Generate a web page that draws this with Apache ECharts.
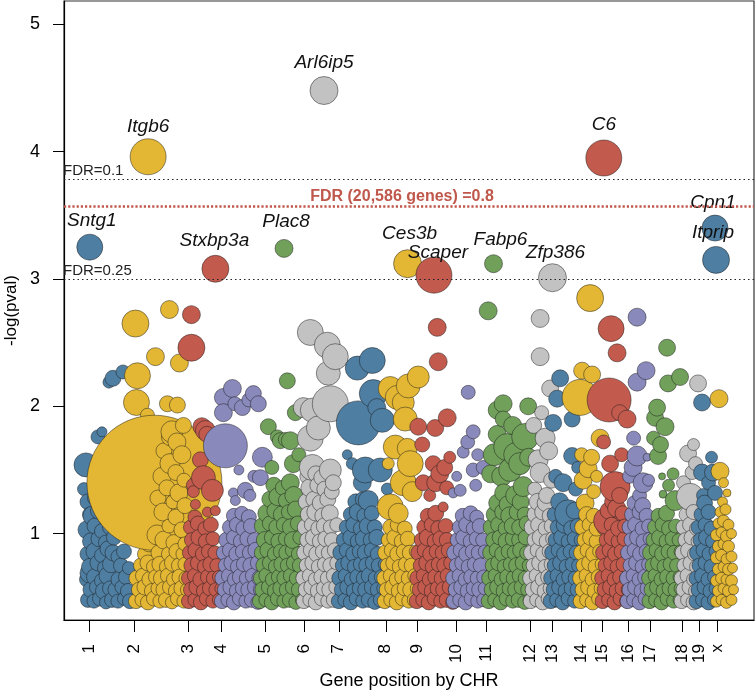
<!DOCTYPE html>
<html><head><meta charset="utf-8">
<script src="https://cdn.jsdelivr.net/npm/echarts@6/dist/echarts.min.js"></script>
<style>html,body{margin:0;padding:0;background:#fff}#c{width:756px;height:694px}</style>
</head><body><div id="c"></div>
<script>
// ---- axis definitions ----
const chrNames = ['1','2','3','4','5','6','7','8','9','10','11','12','13','14','15','16','17','18','19','x'];
const chrStart = [25,70,124,157,201,240,275,322,354,393,423,467,489,518,539,565,587,619,636,654];
const yTicks = [1,2,3,4,5];

// ---- thresholds ----
const fdrDotted = [{label:'FDR=0.1', value:3.78},{label:'FDR=0.25', value:3.0}];
const fdrGenome = {label:'FDR (20,586 genes) =0.8', value:3.57};

// ---- labelled genes ----
const geneNames = ['Sntg1','Itgb6','Stxbp3a','Plac8','Arl6ip5','Ces3b','Scaper','Fabp6','Zfp386','C6','Cpn1','Itprip'];
const geneChr   = [0,1,2,4,5,7,8,10,11,14,18,18];
const genePos   = [25.8,84.2,151.5,220.2,260.2,343.8,370.2,429.8,488.8,540.2,651.5,652.5];
const geneLogP  = [3.25,3.96,3.08,3.24,4.48,3.12,3.03,3.12,3.01,3.95,3.40,3.15];
const geneSize  = [26,36,27,18,28,28,36,18,28,36,26,27];

// ---- genes per chromosome: [position, -log(pval), bubble size] ----
const chr1 = [[22,1.54,24],[34,1.76,14],[38,1.80,10],[49,2.22,16],[59,2.27,14],[45,2.19,12],[29,1.14,20],[26,0.69,20],[49,0.85,16],
[24,0.48,15],[30,0.47,14],[36,0.49,15],[42,0.46,13],[48,0.48,15],[54,0.47,14],[60,0.49,13],[66,0.47,15],
[27,0.56,16],[33,0.58,15],[40,0.55,17],[46,0.57,15],[52,0.56,16],[58,0.58,14],[64,0.55,15],
[23,0.64,15],[31,0.66,17],[38,0.63,15],[44,0.67,18],[55,0.64,16],[62,0.66,15],
[26,0.74,17],[34,0.77,16],[41,0.73,15],[47,0.76,17],[57,0.75,15],[65,0.73,13],
[24,0.84,16],[31,0.86,18],[38,0.83,15],[44,0.88,16],[54,0.82,14],[60,0.86,15],
[27,0.94,17],[35,0.96,16],[42,0.93,15],[50,0.97,15],[23,1.03,18],[31,1.06,16],[38,1.02,15],[46,1.05,15],
[26,1.15,15],[35,1.18,17],[42,1.12,15],[24,1.25,16],[31,1.28,15],[20,1.35,13]];
const chr2 = [[90.5,1.40,135],[71.5,2.65,27],[105.5,2.76,18],[91.5,2.39,18],[115.5,2.34,18],[73.5,2.24,26],[72.5,2.03,26],[103.5,2.02,16],[113.5,2.01,16],[83.5,1.93,14],[119.5,1.85,16],[106.5,1.76,18],
[108,1.80,22],[113,1.72,18],[100,1.65,16],[118,1.62,18],[106,1.55,20],[112,1.48,16],[98,1.45,18],[120,1.42,14],[103,1.36,16],[115,1.32,18],[94,1.28,16],[109,1.25,14],[121,1.22,16],[99,1.17,18],[112,1.13,16],[89,1.10,16],[105,1.06,14],[118,1.03,16],[93,0.99,20],[100,0.95,18],[110,0.93,16],[121,0.92,14],[85,0.92,16],
[72,0.47,15],[78,0.48,14],[84,0.46,15],[90,0.49,15],[96,0.47,14],[102,0.48,15],[108,0.46,13],[114,0.49,15],[120,0.47,14],
[75,0.56,15],[81,0.58,16],[88,0.55,15],[94,0.57,14],[100,0.56,16],[106,0.58,15],[112,0.55,15],[118,0.57,16],[123,0.56,13],
[73,0.65,16],[79,0.67,15],[86,0.64,16],[92,0.66,15],[98,0.65,17],[104,0.67,15],[110,0.64,15],[116,0.66,16],[122,0.65,14],
[77,0.75,15],[84,0.77,16],[90,0.74,15],[96,0.76,16],[103,0.74,15],[109,0.77,17],[115,0.75,15],[121,0.76,14],
[81,0.84,15],[95,0.85,16],[105,0.84,15],[113,0.86,16],[119,0.84,14]];
const chr3 = [[127.5,2.72,18],[127.5,2.46,27],[141.5,1.81,20],[139.5,1.44,24],[148.5,1.34,22],[129.5,1.38,14],[129.5,1.33,12],[131.5,1.23,10],[143.5,1.17,10],[151.5,1.18,10],[136.5,1.58,16],[138,1.84,18],[143,1.78,16],
[125,0.47,15],[131,0.48,14],[137,0.46,15],[143,0.49,15],[149,0.47,14],[155,0.48,13],
[127,0.56,15],[133,0.58,16],[140,0.55,15],[146,0.57,15],[152,0.56,14],[157,0.57,12],
[125,0.65,15],[131,0.67,15],[137,0.64,16],[144,0.66,15],[150,0.65,15],[155,0.66,13],
[128,0.75,16],[134,0.77,15],[141,0.74,15],[147,0.76,16],[153,0.75,14],
[126,0.85,15],[132,0.87,16],[139,0.84,15],[145,0.86,15],[151,0.85,14],
[128,0.95,15],[135,0.97,16],[142,0.94,15],[149,0.96,14],
[127,1.05,15],[134,1.08,15],[141,1.04,14],[147,1.07,15],[131,1.13,14]];
const chr4 = [[161.5,1.69,44],[168.5,2.14,18],[159.5,2.07,18],[159.5,1.95,18],[178.5,1.99,16],[189.5,2.10,16],[194.5,2.02,16],[185,2.05,14],[171,2.02,14],
[198.5,1.60,20],[196.5,1.44,16],[181.5,1.34,16],[169.5,1.32,10],[171.5,1.26,10],[186,1.30,12],[175,1.50,10],[190,1.45,12],
[158,0.47,15],[164,0.48,14],[170,0.46,15],[176,0.49,15],[182,0.47,14],[188,0.48,15],[194,0.46,14],[200,0.48,13],
[161,0.56,15],[167,0.58,16],[173,0.55,15],[179,0.57,15],[185,0.56,16],[191,0.58,15],[197,0.56,15],
[159,0.65,16],[165,0.67,15],[171,0.64,15],[177,0.66,17],[183,0.65,15],[189,0.67,15],[196,0.65,16],
[162,0.75,15],[168,0.77,16],[174,0.74,15],[180,0.76,15],[187,0.75,16],[194,0.77,15],
[160,0.85,15],[166,0.87,15],[173,0.84,16],[179,0.86,15],[186,0.85,15],[192,0.87,16],[199,0.84,14],
[163,0.95,16],[170,0.97,15],[177,0.94,15],[184,0.96,16],[191,0.95,15],
[166,1.05,15],[173,1.07,15],[180,1.04,16],[187,1.06,15],[170,1.14,15],[178,1.16,14],[185,1.13,15]];
const chr5 = [[223.5,2.20,16],[204.5,1.84,16],[213.5,1.76,14],[221.5,1.74,14],[231.5,1.95,16],[226.5,1.73,18],[216.5,1.73,16],[229.5,1.55,18],[226.5,1.40,18],[208,1.52,14],[235,1.62,14],
[196,0.47,15],[202,0.48,14],[208,0.46,15],[214,0.49,15],[220,0.47,14],[226,0.48,15],[232,0.46,14],[238,0.48,13],
[199,0.56,16],[205,0.58,15],[211,0.55,15],[217,0.57,16],[223,0.56,15],[229,0.58,15],[235,0.56,15],
[197,0.65,15],[203,0.67,16],[209,0.64,15],[215,0.66,15],[221,0.65,16],[227,0.67,15],[233,0.65,15],[239,0.66,13],
[200,0.75,16],[206,0.77,15],[212,0.74,15],[218,0.76,16],[224,0.75,15],[230,0.77,15],[236,0.75,15],
[198,0.85,15],[204,0.87,16],[211,0.84,15],[217,0.86,15],[223,0.85,16],[229,0.87,15],[235,0.84,15],
[201,0.95,17],[208,0.97,15],[215,0.94,16],[222,0.96,15],[229,0.95,17],[236,0.97,14],
[199,1.06,17],[206,1.08,15],[213,1.05,16],[220,1.07,15],[227,1.05,17],[234,1.08,15],
[203,1.16,18],[211,1.18,16],[218,1.15,17],[225,1.17,15],[232,1.19,17],
[206,1.27,16],[214,1.29,18],[222,1.26,15],[230,1.30,18],[210,1.38,16],[219,1.36,15]];
const chr6 = [[246.5,2.58,26],[263.5,2.48,26],[271.5,2.39,26],[264.5,2.26,24],[266.5,2.02,36],[239.5,1.99,20],[248.5,1.97,24],[246.5,1.75,26],[254.5,1.83,24],[248.5,1.52,26],[266.5,1.50,22],[269.5,1.40,16],
[240,0.47,15],[246,0.48,14],[252,0.46,15],[258,0.49,15],[264,0.47,14],[270,0.48,15],[275,0.47,13],
[242,0.56,15],[248,0.58,16],[254,0.55,15],[260,0.57,15],[266,0.56,16],[272,0.58,14],
[240,0.65,16],[246,0.67,15],[252,0.64,15],[258,0.66,16],[264,0.65,15],[270,0.67,15],[275,0.65,13],
[243,0.75,15],[249,0.77,16],[255,0.74,15],[261,0.76,15],[267,0.75,16],[273,0.77,14],
[241,0.85,16],[247,0.87,15],[253,0.84,16],[259,0.86,15],[265,0.85,15],[271,0.87,15],
[244,0.95,16],[250,0.97,17],[256,0.94,15],[262,0.96,16],[268,0.95,15],
[242,1.05,17],[248,1.07,15],[255,1.04,16],[261,1.06,17],[267,1.05,15],[273,1.07,14],
[245,1.15,17],[252,1.17,18],[259,1.14,16],[266,1.16,17],
[243,1.25,17],[250,1.27,16],[257,1.24,17],[264,1.27,16],
[246,1.36,18],[254,1.38,16],[261,1.35,16],[268,1.33,15],[244,1.45,16],[252,1.47,16],[258,1.44,16]];
const chr7 = [[308.5,2.36,26],[293.5,2.30,24],[309.5,2.10,28],[294.5,1.87,44],[318.5,1.89,24],[313,1.99,18],[288.5,1.55,12],[301.5,1.50,26],[316.5,1.50,24],[323.5,1.35,12],[298.5,1.40,18],[304.5,1.26,20],[283.5,1.62,10],
[275,0.47,15],[281,0.48,14],[287,0.46,15],[293,0.49,15],[299,0.47,14],[305,0.48,15],[311,0.46,14],[317,0.48,15],[322,0.47,13],
[278,0.56,15],[284,0.58,16],[290,0.55,15],[296,0.57,15],[302,0.56,16],[308,0.58,15],[314,0.56,15],[320,0.57,14],
[276,0.65,16],[282,0.67,15],[288,0.64,15],[294,0.66,16],[300,0.65,15],[306,0.67,17],[312,0.65,15],[318,0.66,15],
[279,0.75,15],[285,0.77,16],[291,0.74,15],[297,0.76,15],[303,0.75,16],[309,0.77,15],[315,0.75,15],[321,0.76,13],
[277,0.85,16],[283,0.87,15],[290,0.84,16],[296,0.86,15],[302,0.85,17],[308,0.87,15],[314,0.84,15],
[280,0.95,15],[287,0.97,16],[294,0.94,15],[300,0.96,17],[307,0.95,15],[313,0.97,16],
[283,1.05,15],[290,1.07,16],[297,1.04,15],[304,1.06,17],[311,1.05,15],
[287,1.15,15],[294,1.17,17],[301,1.14,16],[308,1.16,15],[292,1.25,16],[299,1.27,15]];
const chr8 = [[326.5,2.14,24],[333.5,2.07,24],[344.5,2.16,24],[354.5,2.23,22],[339.5,2.03,22],[341.5,1.90,24],[331.5,1.68,24],[343.5,1.67,20],[346.5,1.55,26],[324.5,1.55,12],[339.5,1.40,26],[348.5,1.33,20],[326.5,1.21,26],[334.5,1.16,20],
[321,0.47,15],[327,0.48,14],[333,0.46,15],[339,0.49,15],[345,0.47,14],[351,0.48,15],
[323,0.56,15],[329,0.58,16],[335,0.55,15],[341,0.57,15],[347,0.56,16],[353,0.57,13],
[321,0.65,16],[327,0.67,15],[333,0.64,15],[339,0.66,16],[345,0.65,15],[351,0.67,14],
[324,0.75,15],[330,0.77,16],[336,0.74,15],[342,0.76,15],[348,0.75,15],
[322,0.85,16],[328,0.87,15],[334,0.84,16],[340,0.86,15],[346,0.85,15],[352,0.86,13],
[325,0.95,15],[331,0.97,16],[338,0.94,15],[344,0.96,15],[327,1.05,16],[334,1.07,15],[341,1.04,15]];
const chr9 = [[373.5,2.62,18],[374.5,2.35,18],[354.5,1.84,17],[371.5,1.83,17],[383.5,1.91,18],[358.5,1.70,15],[369.5,1.55,16],[376,1.47,18],[381,1.52,16],[372,1.40,18],[359.5,1.40,16],[383,1.36,14],[379.5,1.21,10],[366,1.30,12],[386,1.60,12],
[353,0.47,15],[359,0.48,14],[365,0.46,15],[371,0.49,15],[377,0.47,14],[383,0.48,15],[389,0.46,14],
[356,0.56,15],[362,0.58,16],[368,0.55,15],[374,0.57,15],[380,0.56,16],[386,0.58,15],[391,0.56,13],
[354,0.65,16],[360,0.67,15],[366,0.64,15],[372,0.66,16],[378,0.65,15],[384,0.67,15],[390,0.65,14],
[357,0.75,15],[363,0.77,16],[369,0.74,15],[375,0.76,15],[381,0.75,16],[387,0.77,14],
[355,0.85,16],[361,0.87,15],[367,0.84,16],[373,0.86,15],[379,0.85,15],[385,0.87,15],
[358,0.95,15],[364,0.97,17],[371,0.94,15],[377,0.96,16],[383,0.95,15],
[361,1.05,16],[368,1.07,15],[375,1.04,16],[382,1.06,15],[364,1.14,15],[372,1.16,16]];
const chr10 = [[404.5,2.11,14],[409.5,1.80,14],[399.5,1.64,12],[409.5,1.50,14],[396.5,1.34,12],[389.5,1.32,10],[419.5,1.52,14],[404,1.72,14],[414,1.62,12],[393,1.45,10],[412,1.38,12],
[390,0.47,15],[396,0.48,14],[402,0.46,15],[408,0.49,15],[414,0.47,14],[420,0.48,14],
[392,0.56,15],[398,0.58,16],[404,0.55,15],[410,0.57,15],[416,0.56,16],[421,0.57,13],
[390,0.65,16],[396,0.67,15],[402,0.64,15],[408,0.66,16],[414,0.65,15],[420,0.66,14],
[393,0.75,15],[399,0.77,16],[405,0.74,15],[411,0.76,15],[417,0.75,15],
[391,0.85,16],[397,0.87,15],[403,0.84,16],[409,0.86,15],[415,0.85,15],[421,0.86,13],
[394,0.95,15],[400,0.97,16],[407,0.94,15],[413,0.96,15],[419,0.95,14],
[396,1.05,15],[403,1.07,16],[410,1.04,15],[416,1.06,15],[399,1.14,15],[407,1.16,15],[413,1.13,14]];
const chr11 = [[424.5,2.75,18],[433.5,1.97,18],[439.5,2.02,18],[464.5,2.00,17],[439.5,1.90,16],
[443.5,1.68,27],[461.5,1.76,27],[446.5,1.50,23],[459.5,1.37,20],[430.5,1.62,22],[433.5,1.78,18],[452,1.62,24],[438,1.45,20],[449,1.85,18],[456,1.55,22],[465,1.60,18],[427,1.47,18],[440,1.32,18],[452,1.30,20],
[425,0.47,15],[431,0.48,14],[437,0.46,15],[443,0.49,15],[449,0.47,14],[455,0.48,15],[461,0.46,14],[466,0.48,13],
[428,0.56,15],[434,0.58,16],[440,0.55,15],[446,0.57,15],[452,0.56,16],[458,0.58,15],[464,0.56,14],
[426,0.65,16],[432,0.67,15],[438,0.64,15],[444,0.66,16],[450,0.65,15],[456,0.67,15],[462,0.65,15],
[429,0.75,15],[435,0.77,16],[441,0.74,15],[447,0.76,15],[453,0.75,16],[459,0.77,15],[465,0.75,13],
[427,0.85,16],[433,0.87,15],[439,0.84,16],[445,0.86,15],[451,0.85,15],[457,0.87,16],[463,0.85,14],
[430,0.95,16],[436,0.97,15],[443,0.94,17],[449,0.96,15],[456,0.95,16],[462,0.97,15],
[428,1.05,17],[435,1.07,16],[442,1.04,15],[449,1.06,17],[456,1.05,16],[463,1.08,15],
[431,1.15,17],[439,1.17,16],[446,1.14,18],[454,1.17,17],[461,1.15,15],[434,1.24,18],[444,1.23,17],[457,1.25,17]];
const chr12 = [[476.5,2.69,18],[476.5,2.39,18],[486.5,2.14,17],[481.5,1.75,20],[474.5,1.58,20],[476.5,1.48,20],[485,1.65,18],[470,1.85,16],[478,1.95,14],[488,1.42,16],[471,1.35,14],[483,1.30,16],
[467,0.47,15],[473,0.48,14],[479,0.46,15],[485,0.49,15],[490,0.47,13],
[469,0.56,15],[475,0.58,16],[481,0.55,15],[487,0.57,15],
[467,0.65,16],[473,0.67,15],[479,0.64,15],[485,0.66,16],[490,0.65,13],
[470,0.75,15],[476,0.77,16],[482,0.74,15],[488,0.76,15],
[468,0.85,16],[474,0.87,15],[480,0.84,16],[486,0.86,15],
[471,0.95,15],[477,0.97,17],[483,0.94,15],[489,0.96,14],
[469,1.05,17],[475,1.07,16],[482,1.04,15],[488,1.06,15],
[472,1.15,17],[479,1.17,16],[486,1.14,15],[474,1.25,17],[482,1.24,17]];
const chr13 = [[496.5,2.22,17],[493.5,2.06,17],[489.5,1.87,17],[508.5,1.90,16],[508.5,1.61,17],[499.5,1.40,18],[504.5,1.16,27],[492,1.45,14],[512,1.35,14],[496,1.25,18],[514,1.52,12],
[487,0.47,15],[493,0.48,14],[499,0.46,15],[505,0.49,15],[511,0.47,14],[517,0.48,13],
[490,0.56,15],[496,0.58,16],[502,0.55,15],[508,0.57,15],[514,0.56,15],
[488,0.65,16],[494,0.67,15],[500,0.64,15],[506,0.66,16],[512,0.65,15],[517,0.66,13],
[491,0.75,15],[497,0.77,16],[503,0.74,15],[509,0.76,15],[515,0.75,14],
[489,0.85,16],[495,0.87,15],[501,0.84,16],[507,0.86,15],[513,0.85,15],
[492,0.95,15],[498,0.97,16],[505,0.94,15],[511,0.96,15],[517,0.95,13],
[494,1.05,15],[501,1.07,17],[508,1.04,16],[514,1.06,15],[491,1.15,15],[511,1.18,17]];
const chr14 = [[526.5,2.85,27],[516.5,2.07,36],[518.5,2.28,17],[528.5,2.25,17],[536.5,1.75,18],[524.5,1.51,18],[519.5,1.42,18],[521.5,1.24,18],[530,1.33,14],[518,1.62,14],[533,1.45,12],[528,1.60,16],
[517,0.47,15],[523,0.48,14],[529,0.46,15],[535,0.49,14],
[519,0.56,15],[525,0.58,16],[531,0.55,15],[537,0.57,13],
[517,0.65,16],[523,0.67,15],[529,0.64,15],[535,0.66,15],
[520,0.75,15],[526,0.77,16],[532,0.74,15],[538,0.76,13],
[518,0.85,16],[524,0.87,15],[530,0.84,16],[536,0.86,14],
[521,0.95,15],[527,0.97,16],[533,0.94,15],[519,1.05,16],[526,1.07,15],[533,1.04,15],[523,1.15,16],[530,1.14,15]];
const chr15 = [[547.5,2.61,26],[553.5,2.42,18],[545.5,2.05,44],[563.5,1.90,18],[546.5,1.55,17],[551.5,1.37,30],[543.5,1.10,27],[540,1.72,14],[556,1.95,16],[558,1.62,14],[549,1.25,16],
[539,0.47,15],[545,0.48,14],[551,0.46,15],[557,0.49,15],[563,0.47,14],
[541,0.56,15],[547,0.58,16],[553,0.55,15],[559,0.57,15],[564,0.56,13],
[539,0.65,16],[545,0.67,15],[551,0.64,15],[557,0.66,16],[563,0.65,14],
[542,0.75,15],[548,0.77,16],[554,0.74,15],[560,0.76,15],
[540,0.85,16],[546,0.87,15],[552,0.84,16],[558,0.86,15],[564,0.85,13],
[543,0.95,15],[549,0.97,17],[555,0.94,15],[561,0.96,15],
[541,1.05,16],[548,1.07,15],[555,1.04,16],[561,1.06,14],[545,1.18,17],[553,1.20,18],[559,1.16,15],[556,1.30,16]];
const chr16 = [[573.5,2.70,18],[582.5,2.28,18],[573.5,2.19,18],[573.5,1.61,20],[583.5,1.60,8],[569.5,1.52,18],[579.5,1.40,20],[566,1.45,14],[576,1.30,14],[585,1.42,12],[570,1.75,14],
[564,0.47,15],[570,0.48,14],[576,0.46,15],[582,0.49,15],[587,0.47,13],
[566,0.56,15],[572,0.58,16],[578,0.55,15],[584,0.57,15],
[564,0.65,16],[570,0.67,15],[576,0.64,15],[582,0.66,16],[587,0.65,13],
[567,0.75,15],[573,0.77,16],[579,0.74,15],[585,0.76,14],
[565,0.85,16],[571,0.87,15],[577,0.84,16],[583,0.86,15],
[568,0.95,15],[574,0.97,16],[580,0.94,15],[586,0.96,13],
[566,1.05,15],[572,1.07,16],[579,1.04,15],[585,1.06,14],[569,1.15,16],[576,1.17,15],[583,1.14,15],[571,1.24,15],[579,1.22,16]];
const chr17 = [[603.5,2.46,17],[604.5,2.18,17],[616.5,2.23,17],[593.5,1.99,17],[591.5,1.91,17],[601.5,1.84,18],[594.5,1.61,17],[598.5,1.45,7],[599.5,1.31,8],[609.5,1.47,12],[611.5,1.26,20],[590,1.75,14],[597,1.70,16],[605,1.38,12],
[586,0.47,15],[592,0.48,14],[598,0.46,15],[604,0.49,15],[610,0.47,14],[616,0.48,13],
[588,0.56,15],[594,0.58,16],[600,0.55,15],[606,0.57,15],[612,0.56,15],[617,0.57,13],
[586,0.65,16],[592,0.67,15],[598,0.64,15],[604,0.66,16],[610,0.65,15],[616,0.66,13],
[589,0.75,15],[595,0.77,16],[601,0.74,15],[607,0.76,15],[613,0.75,14],
[587,0.85,16],[593,0.87,15],[599,0.84,16],[605,0.86,15],[611,0.85,15],[617,0.86,13],
[590,0.95,15],[596,0.97,16],[603,0.94,15],[609,0.96,15],[615,0.95,13],
[592,1.05,16],[599,1.07,15],[606,1.04,16],[612,1.06,14],[595,1.14,15],[603,1.16,16]];
const chr18 = [[634.5,2.18,17],[624.5,1.63,17],[628.5,1.48,14],[626.5,1.29,27],[620,1.40,14],[632,1.55,14],[630,1.70,12],
[618,0.47,15],[624,0.48,14],[630,0.46,15],[635,0.48,13],
[620,0.56,15],[626,0.58,15],[632,0.55,14],
[618,0.65,15],[624,0.67,15],[630,0.64,14],[635,0.66,13],
[621,0.75,15],[627,0.77,15],[633,0.74,14],
[619,0.85,15],[625,0.87,16],[631,0.84,14],
[622,0.95,15],[628,0.97,15],[634,0.94,13],
[620,1.05,15],[627,1.07,16],[633,1.04,14],[623,1.15,15],[630,1.17,15]];
const chr19 = [[638.5,2.03,17],[638.5,1.48,17],[649.5,1.48,17],[651.5,1.32,15],[645,1.40,14],[640,1.30,14],[648,1.60,12],
[633,0.47,15],[639,0.48,14],[645,0.46,15],[651,0.48,14],
[635,0.56,15],[641,0.58,15],[647,0.55,15],[652,0.57,13],
[633,0.65,15],[639,0.67,16],[645,0.64,15],[651,0.66,14],
[636,0.75,15],[642,0.77,15],[648,0.74,15],
[634,0.85,16],[640,0.87,15],[646,0.84,15],[652,0.86,13],
[637,0.95,15],[643,0.97,16],[649,0.94,14],
[635,1.05,15],[642,1.07,15],[648,1.04,15],[638,1.15,15],[645,1.17,15],[641,1.24,16]];
const chrX = [[655.5,2.06,18],[656.5,1.49,18],[663.5,1.32,8],[660,1.40,10],
[653,0.47,12],[658,0.48,11],[663,0.46,12],[668,0.48,11],
[655,0.55,12],[660,0.57,11],[665,0.55,12],[670,0.56,10],
[653,0.63,12],[658,0.65,12],[663,0.64,11],[668,0.63,12],
[655,0.72,12],[660,0.74,11],[665,0.72,12],[669,0.73,10],
[653,0.81,12],[658,0.83,12],[663,0.80,11],[668,0.82,11],
[655,0.90,12],[660,0.92,11],[665,0.90,12],
[653,0.99,12],[658,1.01,11],[663,0.98,12],[668,1.00,10],
[655,1.08,11],[660,1.10,12],[665,1.07,11],[657,1.17,11],[662,1.19,11],[659,1.25,10]];
const chrData = [chr1,chr2,chr3,chr4,chr5,chr6,chr7,chr8,chr9,chr10,chr11,chr12,chr13,chr14,chr15,chr16,chr17,chr18,chr19,chrX];

// ---- styles ----
const palette = ['#4E7EA2','#E3B733','#C25A4D','#8A89BC','#70A05A','#C2C2C2'];
const FONT = '"Liberation Sans", Arial, Helvetica, sans-serif';
const labelShift = {Sntg1:[2,26],Itgb6:[0,30],Stxbp3a:[-1,28],Plac8:[2,27],Arl6ip5:[0,28],Ces3b:[2,30],Scaper:[4,22],Fabp6:[7,24],Zfp386:[3,25],C6:[0,33],Cpn1:[-2,25],Itprip:[-3,27]};

const series = [];
series.push({
  type:'scatter', data:[], z:1, silent:true,
  markLine:{ symbol:'none', silent:true, animation:false,
    data:[
      {yAxis:fdrDotted[0].value, lineStyle:{color:'#222',type:[1.5,3],width:1.2},
        label:{show:true,formatter:fdrDotted[0].label,position:'insideStartTop',distance:[-1,1],color:'#222',fontSize:15,fontFamily:FONT}},
      {yAxis:fdrDotted[1].value, lineStyle:{color:'#222',type:[1.5,3],width:1.2},
        label:{show:true,formatter:fdrDotted[1].label,position:'insideStartTop',distance:[-1,1],color:'#222',fontSize:15,fontFamily:FONT}},
      {yAxis:fdrGenome.value, lineStyle:{color:'#C0574B',type:[2.2,2],width:2.6},
        label:{show:true,formatter:fdrGenome.label,position:'insideMiddleTop',distance:2,color:'#C0574B',fontSize:16,fontWeight:'bold',fontFamily:FONT,padding:[0,14,0,0]}}
    ]}
});

chrData.forEach((arr, ci) => {
  const items = arr.map(p => ({value:p}));
  geneNames.forEach((g, gi) => {
    if (geneChr[gi] !== ci) return;
    const sh = labelShift[g];
    items.push({value:[genePos[gi], geneLogP[gi], geneSize[gi]],
      label:{show:true, formatter:g, position:'inside', offset:[sh[0], -sh[1]],
        fontStyle:'italic', fontSize:19, color:'#111', fontFamily:FONT}});
  });
  items.sort((a,b) => a.value[0] - b.value[0]);
  series.push({
    type:'scatter', name:'chr'+chrNames[ci], z:2, data:items,
    symbolSize: v => v[2],
    itemStyle:{color:palette[ci % 6], opacity:1, borderColor:'rgba(25,25,25,0.6)', borderWidth:0.8},
    emphasis:{disabled:true}, animation:false
  });
});

const chart = echarts.init(document.getElementById('c'), null, {renderer:'canvas'});
chart.setOption({
  animation:false,
  backgroundColor:'#fff',
  grid:{left:64, top:1, width:690, height:619, show:true, borderColor:'#333', borderWidth:1.2, backgroundColor:'transparent', containLabel:false, outerBoundsMode:'none'},
  xAxis:{type:'value', min:0, max:690.5,
    axisLine:{show:true, lineStyle:{color:'#000', width:1.2}},
    axisTick:{show:true, customValues:chrStart, length:12, lineStyle:{color:'#000', width:1}},
    axisLabel:{show:true, customValues:chrStart, rotate:90, margin:24, fontSize:17, color:'#000', fontFamily:FONT,
      formatter: v => chrNames[chrStart.indexOf(v)]},
    splitLine:{show:false},
    name:'Gene position by CHR', nameLocation:'middle', nameGap:52, nameMoveOverlap:false,
    nameTextStyle:{fontSize:18, color:'#000', fontFamily:FONT}
  },
  yAxis:{type:'value', min:0.322, max:5.183,
    axisLine:{show:true, lineStyle:{color:'#000', width:1.2}},
    axisTick:{show:true, customValues:yTicks, length:11, lineStyle:{color:'#000', width:1}},
    axisLabel:{show:true, customValues:yTicks, margin:24, fontSize:18, color:'#000', fontFamily:FONT},
    splitLine:{show:false},
    name:'-log(pval)', nameLocation:'middle', nameGap:44, nameMoveOverlap:false,
    nameTextStyle:{fontSize:17, color:'#000', fontFamily:FONT}
  },
  series: series
});
</script></body></html>
